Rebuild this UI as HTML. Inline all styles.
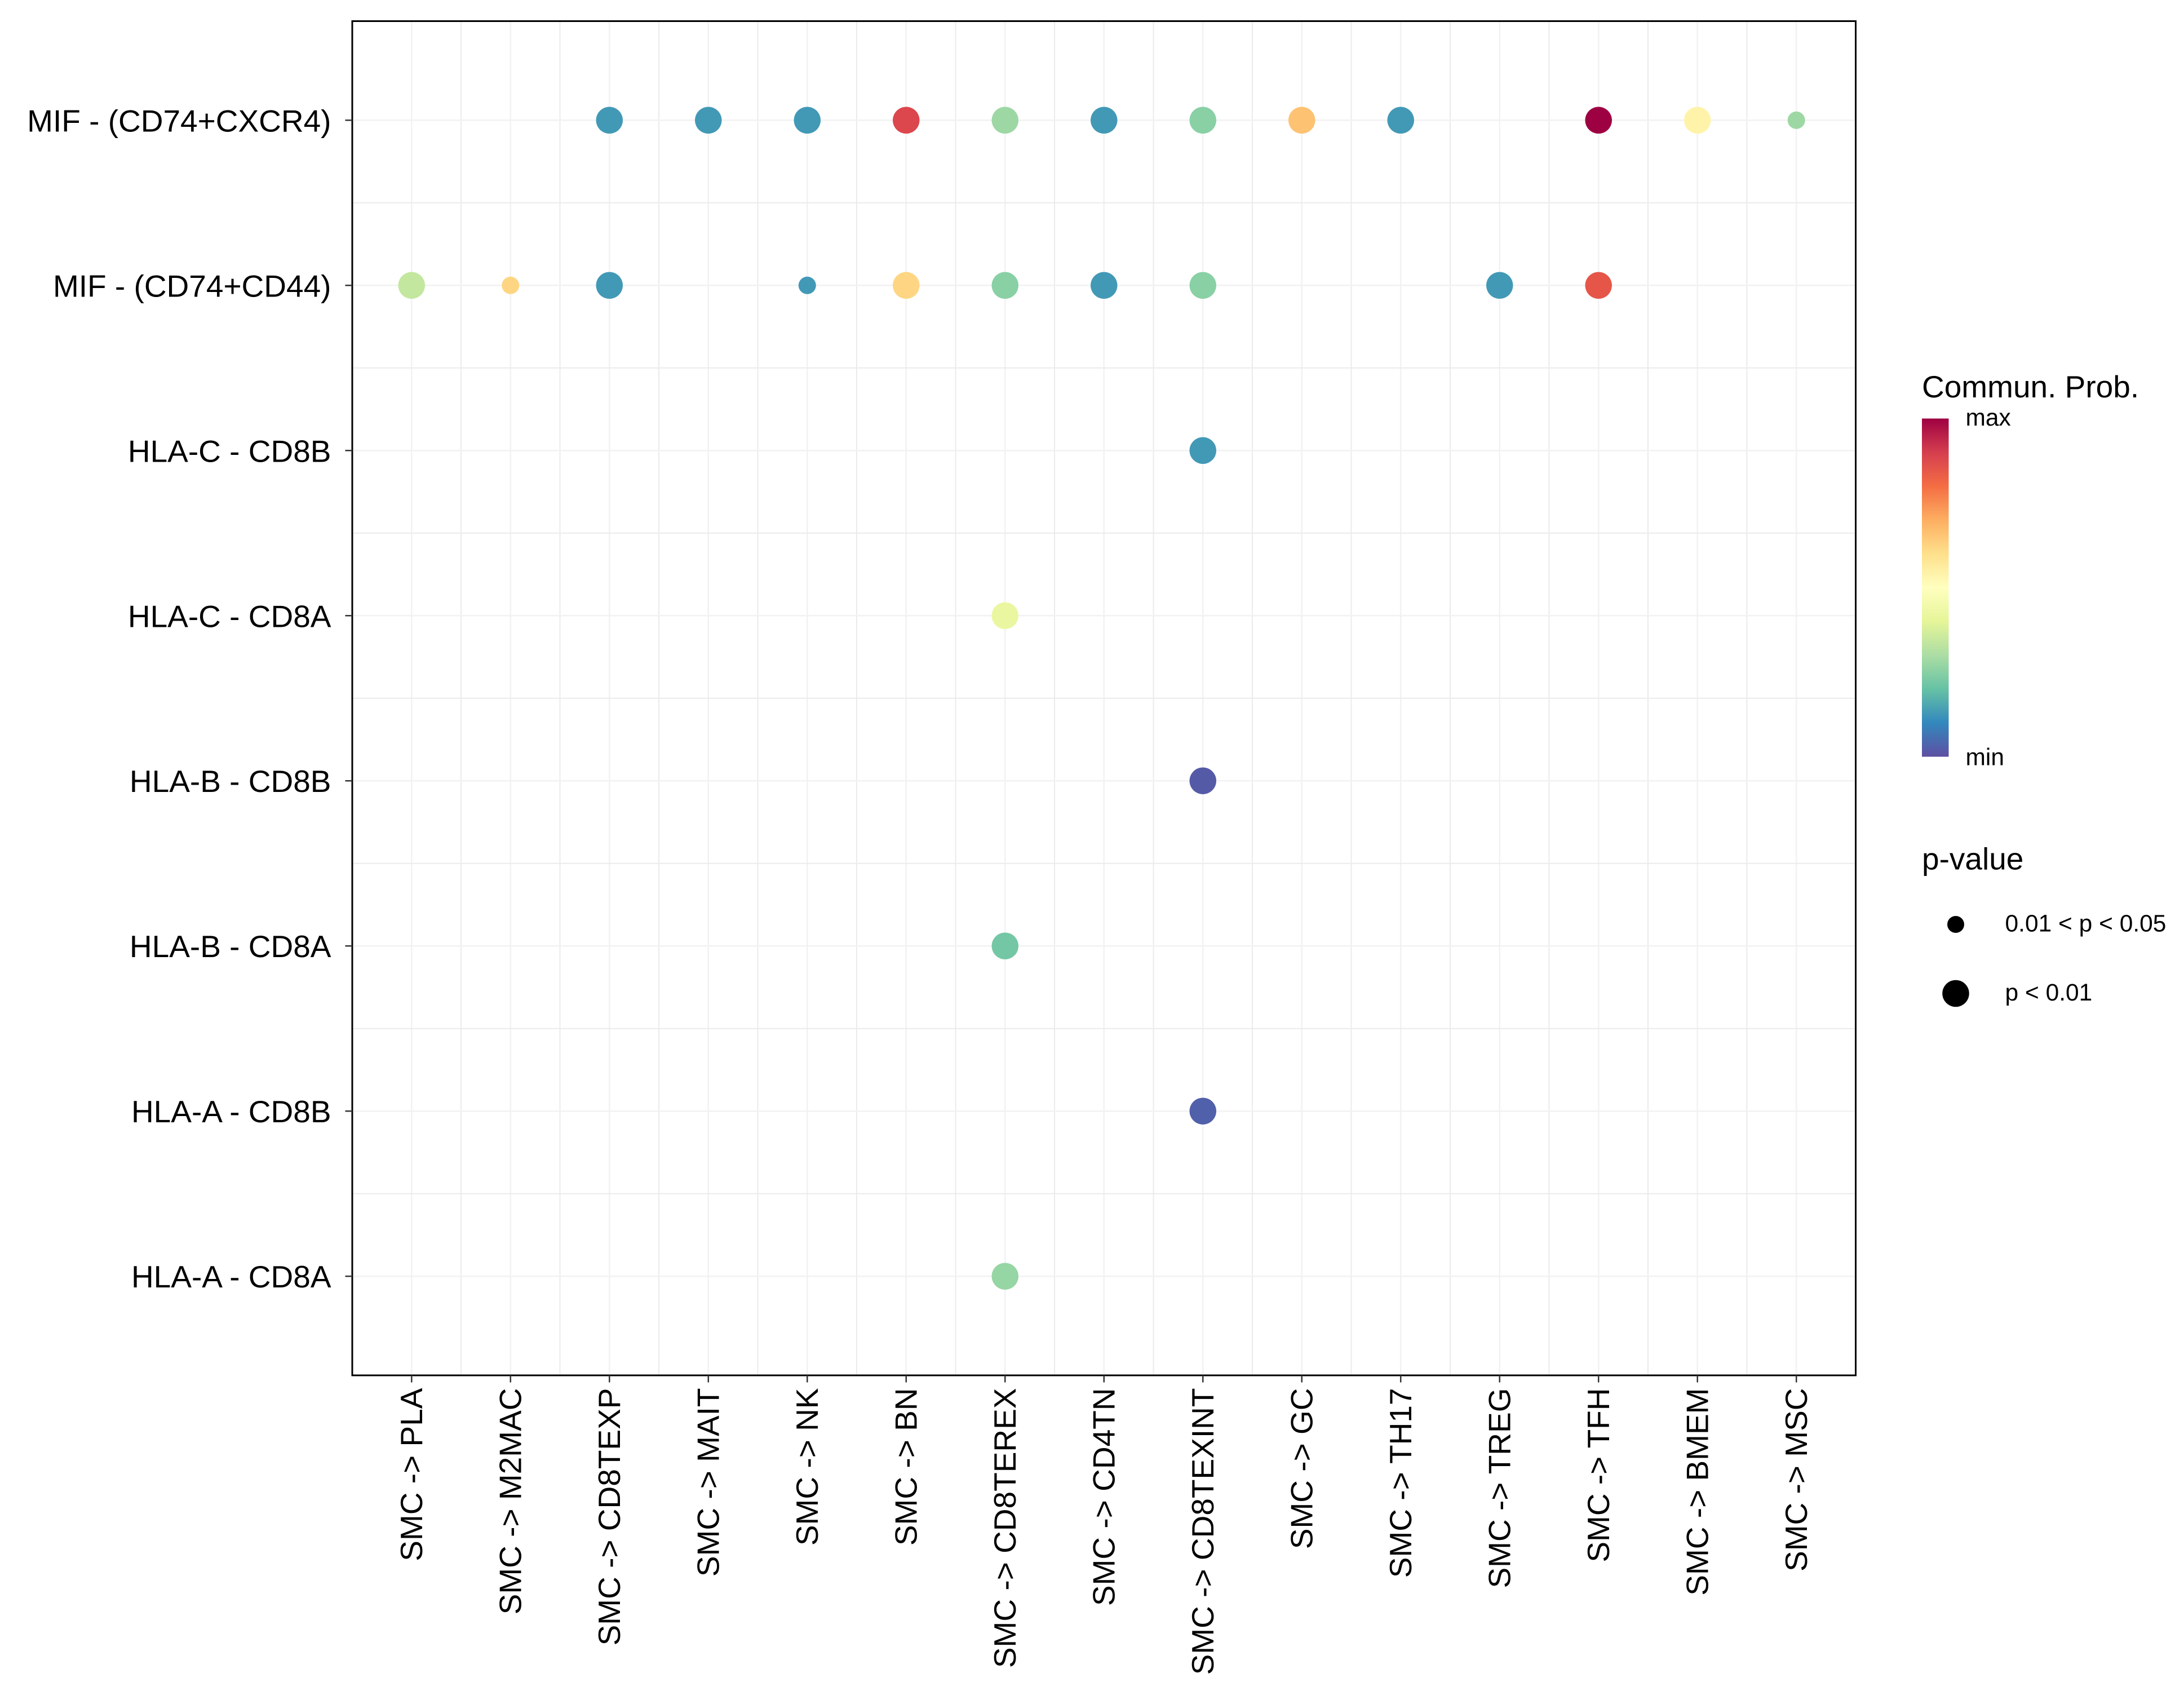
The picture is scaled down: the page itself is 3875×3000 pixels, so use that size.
<!DOCTYPE html>
<html><head><meta charset="utf-8">
<style>html,body{margin:0;padding:0;background:#fff}svg{display:block}text{font-family:"Liberation Sans",Arial,sans-serif}</style>
</head><body>
<svg id="chart" width="3875" height="3000" viewBox="0 0 1550 1200" xmlns="http://www.w3.org/2000/svg">
<defs>
<linearGradient id="cbar" x1="0" y1="1" x2="0" y2="0">
<stop offset="0" stop-color="#5E4FA2"/><stop offset="0.1" stop-color="#3288BD"/><stop offset="0.2" stop-color="#66C2A5"/><stop offset="0.3" stop-color="#ABDDA4"/><stop offset="0.4" stop-color="#E6F598"/><stop offset="0.5" stop-color="#FFFFBF"/><stop offset="0.6" stop-color="#FEE08B"/><stop offset="0.7" stop-color="#FDAE61"/><stop offset="0.8" stop-color="#F46D43"/><stop offset="0.9" stop-color="#D53E4F"/><stop offset="1" stop-color="#9E0142"/>
</linearGradient>
</defs>
<g id="grid"></g>
<g id="dots"></g>
<rect x="250" y="15" width="1067" height="961" fill="none" stroke="#000" stroke-width="1.2"/>
<g id="axes"></g>
<g>
<text x="1364" y="282" font-size="22">Commun. Prob.</text>
<rect x="1364" y="297" width="19" height="240" fill="url(#cbar)"/>
<text x="1395" y="302" font-size="17">max</text>
<text x="1395" y="543" font-size="17">min</text>
<text x="1364" y="617" font-size="22">p-value</text>
<circle cx="1388" cy="656" r="6"/>
<text x="1423" y="661" font-size="17">0.01 &lt; p &lt; 0.05</text>
<circle cx="1388" cy="705" r="9.5"/>
<text x="1423" y="710" font-size="17">p &lt; 0.01</text>
</g>
</svg>
<script>
const categories = ["SMC -> PLA","SMC -> M2MAC","SMC -> CD8TEXP","SMC -> MAIT","SMC -> NK","SMC -> BN","SMC -> CD8TEREX","SMC -> CD4TN","SMC -> CD8TEXINT","SMC -> GC","SMC -> TH17","SMC -> TREG","SMC -> TFH","SMC -> BMEM","SMC -> MSC"];
const pairs = ["MIF - (CD74+CXCR4)","MIF - (CD74+CD44)","HLA-C - CD8B","HLA-C - CD8A","HLA-B - CD8B","HLA-B - CD8A","HLA-A - CD8B","HLA-A - CD8A"];
const dotRow = [0,0,0,0,0,0,0,0,0,0,0,0, 1,1,1,1,1,1,1,1,1,1, 2,3,4,5,6,7];
const dotCol = [2,3,4,5,6,7,8,9,10,12,13,14, 0,1,2,4,5,6,7,8,11,12, 8,6,8,6,8,6];
const dotProb = [0.13,0.13,0.13,0.88,0.28,0.13,0.25,0.66,0.13,1.0,0.54,0.28, 0.34,0.62,0.13,0.13,0.62,0.25,0.13,0.25,0.13,0.85, 0.13,0.42,0.02,0.22,0.03,0.27];
const dotSig = [1,1,1,1,1,1,1,1,1,1,1,0, 1,0,1,0,1,1,1,1,1,1, 1,1,1,1,1,1];

const NS="http://www.w3.org/2000/svg";
const px0=250,pw=1067,py0=15,ph=961;
const xs=pw/(categories.length-1+1.2), ys=ph/(pairs.length-1+1.2);
function xPos(i){return px0+(i+0.6)*xs;}
function yPos(j){return py0+(j+0.6)*ys;}
const pal=["#5E4FA2","#3288BD","#66C2A5","#ABDDA4","#E6F598","#FFFFBF","#FEE08B","#FDAE61","#F46D43","#D53E4F","#9E0142"];
function color(v){const t=Math.max(0,Math.min(1,v))*10;const i=Math.min(9,Math.floor(t)),f=t-i;
 const a=pal[i],b=pal[i+1];const c=k=>Math.round(parseInt(a.substr(k,2),16)*(1-f)+parseInt(b.substr(k,2),16)*f);
 return `rgb(${c(1)},${c(3)},${c(5)})`;}
function mk(tag,attrs,parent){const e=document.createElementNS(NS,tag);for(const k in attrs)e.setAttribute(k,attrs[k]);parent.appendChild(e);return e;}
const grid=document.getElementById('grid'),dots=document.getElementById('dots'),axes=document.getElementById('axes');
for(let i=0;i<categories.length;i++){
 const l=mk('line',{x1:xPos(i),x2:xPos(i),y1:py0,y2:py0+ph,stroke:'#f2f2f2','stroke-width':1},grid);
 
 
 if(i>0){const m=mk('line',{x1:xPos(i)-xs/2,x2:xPos(i)-xs/2,y1:py0,y2:py0+ph,stroke:'#ebebeb','stroke-width':0.8},grid);
 
 }
 const tk=mk('line',{x1:xPos(i),x2:xPos(i),y1:py0+ph,y2:py0+ph+5,stroke:'#333'},axes);
 
 
 const t=mk('text',{x:0,y:0,'font-size':22,'text-anchor':'end',transform:`translate(${xPos(i)+7.5},${py0+ph+9}) rotate(-90)`},axes);
 t.textContent=categories[i];
 
 
}
for(let j=0;j<pairs.length;j++){
 const l=mk('line',{x1:px0,x2:px0+pw,y1:yPos(j),y2:yPos(j),stroke:'#f2f2f2','stroke-width':1},grid);
 
 
 if(j>0){const m=mk('line',{x1:px0,x2:px0+pw,y1:yPos(j)-ys/2,y2:yPos(j)-ys/2,stroke:'#ebebeb','stroke-width':0.8},grid);
 
 }
 const tk=mk('line',{x1:px0-5,x2:px0,y1:yPos(j),y2:yPos(j),stroke:'#333'},axes);
 
 
 const t=mk('text',{x:px0-15,y:yPos(j)+8,'font-size':22,'text-anchor':'end'},axes);
 t.textContent=pairs[j];
 
 
}
for(let k=0;k<dotProb.length;k++){
 const c=mk('circle',{cx:xPos(dotCol[k]),cy:yPos(dotRow[k]),r:dotSig[k]?9.5:6.2,fill:color(dotProb[k])},dots);
 
 
}
</script>
</body></html>
